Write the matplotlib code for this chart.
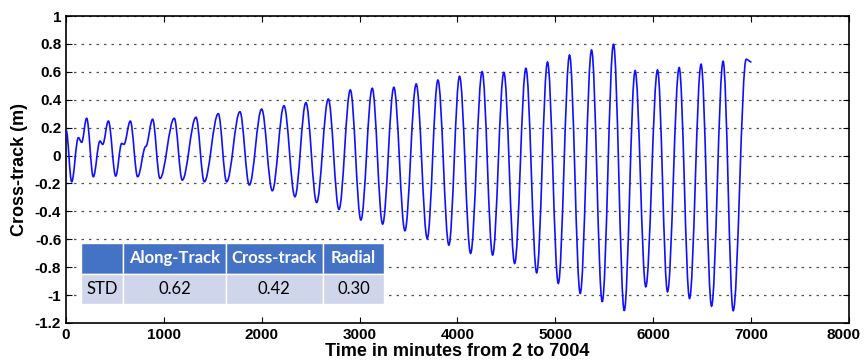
import numpy as np
import matplotlib
matplotlib.use("Agg")
import matplotlib.pyplot as plt
import matplotlib.transforms as mtransforms
from matplotlib.path import Path
from matplotlib.patches import PathPatch

# turning points of the cross-track error (minutes, metres)
t_pts = [2, 58, 126, 160, 211, 279, 347, 375, 433, 508, 569, 592, 657, 732, 815, 885,
         960, 1106, 1188, 1328, 1413, 1556, 1641, 1777, 1873, 1999, 2108, 2227, 2339,
         2451, 2561, 2680, 2789, 2905, 3013, 3129, 3235, 3350, 3463, 3578, 3691, 3800,
         3912, 4021, 4134, 4252, 4359, 4474, 4584, 4699, 4809, 4920, 5030, 5145, 5254,
         5370, 5479, 5594, 5704, 5815, 5924, 6044, 6146, 6265, 6371, 6489, 6596, 6714,
         6817, 6950, 7004]
v_pts = [0.18, -0.188, 0.128, 0.095, 0.267, -0.152, 0.104, 0.080, 0.247, -0.147, 0.087,
         0.080, 0.247, -0.152, 0.065, 0.26, -0.164, 0.267, -0.176, 0.274, -0.188, 0.30,
         -0.188, 0.314, -0.211, 0.333, -0.252, 0.357, -0.295, 0.379, -0.336, 0.405,
         -0.386, 0.47, -0.462, 0.482, -0.491, 0.489, -0.539, 0.513, -0.594, 0.541,
         -0.642, 0.568, -0.701, 0.601, -0.713, 0.596, -0.773, 0.625, -0.840, 0.670,
         -0.916, 0.72, -0.988, 0.756, -1.048, 0.799, -1.112, 0.608, -0.940, 0.613,
         -0.976, 0.63, -1.024, 0.654, -1.079, 0.675, -1.112, 0.69, 0.67]

col_labels = ["", "Along-Track", "Cross-track", "Radial"]
row_values = ["STD", "0.62", "0.42", "0.30"]

fig = plt.figure(figsize=(8.64, 3.63), dpi=100)
ax = fig.add_axes([0.0764, 0.1102, 0.9062, 0.8457])

# smooth curve through the turning points (flat tangents at each one)
k = 0.36
verts = [(t_pts[0], v_pts[0])]
codes = [Path.MOVETO]
for i in range(len(t_pts) - 1):
    dt = t_pts[i + 1] - t_pts[i]
    verts += [(t_pts[i] + k * dt, v_pts[i]),
              (t_pts[i + 1] - k * dt, v_pts[i + 1]),
              (t_pts[i + 1], v_pts[i + 1])]
    codes += [Path.CURVE4] * 3
ax.add_patch(PathPatch(Path(verts, codes), fill=False, edgecolor="#1010ff", lw=1.2, zorder=3))

ax.set_xlim(0, 8000)
ax.set_ylim(-1.2, 1)
ax.set_xticks(np.arange(0, 8001, 1000))
ax.set_yticks(np.arange(-1.2, 1.01, 0.2))
ax.yaxis.set_major_formatter(plt.FuncFormatter(lambda y, p: "%g" % (round(y, 1) + 0.0)))
ax.grid(axis="y", linestyle=(0, (2, 4)), color="#555555", lw=0.9)
ax.tick_params(direction="in", top=True, right=True, length=4, width=0.8, labelsize=11)
for lbl in ax.get_xticklabels() + ax.get_yticklabels():
    lbl.set_fontweight("bold")
    lbl.set_family(["Liberation Sans", "DejaVu Sans"])
for s in ax.spines.values():
    s.set_linewidth(1.2)

# nudge the last x label so it stays inside the figure
last = ax.get_xticklabels()[-1]
last.set_transform(last.get_transform() + mtransforms.ScaledTranslation(-5 / 100, 0, fig.dpi_scale_trans))

ax.set_ylabel("Cross-track (m)", fontsize=13, fontweight="bold",
              family=["Liberation Sans", "DejaVu Sans"], labelpad=5)
ax.set_xlabel("Time in minutes from 2 to 7004", fontsize=13, fontweight="bold",
              family=["Liberation Sans", "DejaVu Sans"], labelpad=1)

tab = ax.table(cellText=[row_values], colLabels=col_labels,
               bbox=[0.0188, 0.0619, 0.3877, 0.1977],
               colWidths=[42.6, 102.7, 96.7, 61.6], cellLoc="center")
tab.auto_set_font_size(False)
for (r, c), cell in tab.get_celld().items():
    cell.set_edgecolor("white")
    cell.set_linewidth(1.0)
    cell.get_text().set_family(["Lato", "DejaVu Sans"])
    cell.get_text().set_fontsize(12)
    if r == 0:
        cell.set_facecolor("#4472c4")
        cell.get_text().set_color("white")
        cell.get_text().set_fontweight("bold")
    else:
        cell.set_facecolor("#cfd5ea")
        cell.get_text().set_color("black")
tab.set_zorder(5)

fig.savefig("out.png", dpi=100)
